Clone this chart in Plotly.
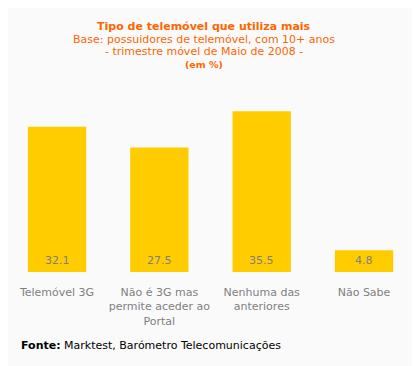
import plotly.graph_objects as go

categories = ["Telemóvel 3G", "Não é 3G mas<br>permite aceder ao<br>Portal", "Nenhuma das<br>anteriores", "Não Sabe"]
values = [32.1, 27.5, 35.5, 4.8]
value_labels = ["32.1", "27.5", "35.5", "4.8"]

FONT = "DejaVu Sans, Verdana, sans-serif"
ORANGE = "#FF6600"
GRAY = "#808080"
BG = "#FAFAFA"

fig = go.Figure()
fig.add_trace(go.Bar(
    x=list(range(len(categories))), y=values, width=0.57,
    marker=dict(color="#FFCC00", line=dict(width=0)),
    hoverinfo="skip",
))

annotations = []
for i, lab in enumerate(value_labels):
    annotations.append(dict(text=lab, x=i, y=0, xref="x", yref="y", yanchor="bottom",
                            yshift=3.5, showarrow=False,
                            font=dict(family=FONT, size=11, color=GRAY)))

title_lines = [
    ("<b>Tipo de telemóvel que utiliza mais</b>", 11, 73.5),
    ("Base: possuidores de telemóvel, com 10+ anos", 11, 60.2),
    ("- trimestre móvel de Maio de 2008 -", 11, 48),
    ("<b>(em %)</b>", 9.5, 34.5),
]
for txt, sz, ys in title_lines:
    annotations.append(dict(text=txt, xref="paper", yref="paper", x=0.476, y=1, yshift=ys,
                            yanchor="top", showarrow=False,
                            font=dict(family=FONT, size=sz, color=ORANGE)))

annotations.append(dict(text="<b>Fonte:</b> Marktest, Barómetro Telecomunicações",
                        xref="paper", yref="paper", x=0, xshift=11, y=0, yshift=-65,
                        yanchor="top", xanchor="left", showarrow=False,
                        font=dict(family=FONT, size=11, color="#000000")))

fig.update_layout(
    width=412, height=358,
    margin=dict(l=0, r=0, t=83, b=94, autoexpand=False),
    paper_bgcolor=BG, plot_bgcolor=BG,
    showlegend=False,
    xaxis=dict(range=[-0.479, 3.547], showgrid=False, zeroline=False, showline=False,
               ticks="", tickmode="array", tickvals=list(range(len(categories))),
               ticktext=categories, ticklabelstandoff=12,
               tickfont=dict(family=FONT, size=11, color=GRAY)),
    yaxis=dict(range=[0, 40], visible=False, showgrid=False, zeroline=False),
    annotations=annotations,
)

fig.write_html("out.html")
